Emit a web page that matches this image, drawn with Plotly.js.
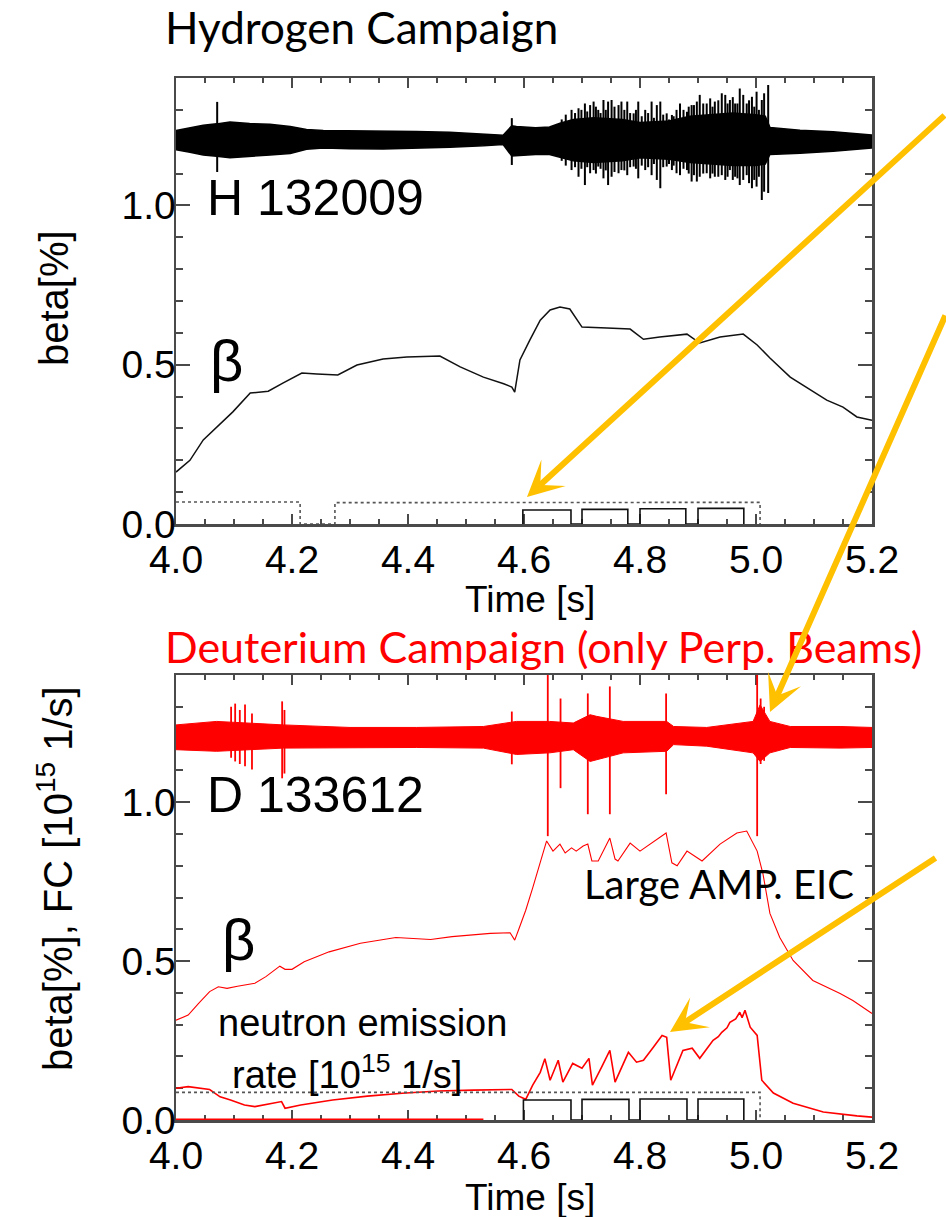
<!DOCTYPE html>
<html>
<head>
<meta charset="utf-8">
<script src="https://cdn.plot.ly/plotly-3.0.1.min.js"></script>
<style>
  html, body { margin: 0; padding: 0; background: #fff; }
  #plot { width: 946px; height: 1217px; }
</style>
</head>
<body>
<div id="plot"></div>
<script>
// ---------- Hydrogen shot H 132009 ----------
// magnetic fluctuation signal: envelope of the dense band
const hBandT  = [4.000, 4.024, 4.047, 4.070, 4.093, 4.127, 4.162, 4.197, 4.225, 4.254, 4.300, 4.357, 4.415, 4.472, 4.530, 4.564, 4.579, 4.587, 4.620, 4.644, 4.662, 4.685, 4.720, 4.770, 4.800, 4.850, 4.886, 4.920, 4.960, 5.000, 5.016, 5.024, 5.076, 5.133, 5.170, 5.200];
const hBandHi = [1.235, 1.243, 1.252, 1.256, 1.262, 1.257, 1.255, 1.248, 1.238, 1.235, 1.234, 1.235, 1.232, 1.230, 1.225, 1.220, 1.250, 1.248, 1.244, 1.246, 1.258, 1.270, 1.275, 1.270, 1.260, 1.265, 1.280, 1.285, 1.290, 1.285, 1.280, 1.245, 1.236, 1.231, 1.226, 1.221];
const hBandLo = [1.175, 1.167, 1.158, 1.154, 1.150, 1.155, 1.158, 1.163, 1.176, 1.180, 1.178, 1.177, 1.180, 1.183, 1.187, 1.191, 1.155, 1.157, 1.160, 1.160, 1.152, 1.140, 1.135, 1.140, 1.150, 1.145, 1.135, 1.130, 1.125, 1.125, 1.130, 1.160, 1.164, 1.170, 1.175, 1.180];
// individual spikes of the fluctuation signal
const hSpikeT  = [4.071, 4.579, 4.665, 4.672, 4.682, 4.688, 4.694, 4.699, 4.705, 4.709, 4.714, 4.720, 4.724, 4.728, 4.732, 4.737, 4.741, 4.745, 4.751, 4.756, 4.763, 4.768, 4.773, 4.778, 4.783, 4.789, 4.793, 4.797, 4.803, 4.809, 4.814, 4.820, 4.824, 4.829, 4.835, 4.840, 4.846, 4.850, 4.855, 4.858, 4.863, 4.869, 4.875, 4.881, 4.884, 4.889, 4.893, 4.898, 4.903, 4.909, 4.915, 4.921, 4.925, 4.929, 4.935, 4.941, 4.947, 4.951, 4.955, 4.960, 4.964, 4.968, 4.972, 4.978, 4.984, 4.988, 4.993, 4.997, 5.001, 5.005, 5.010, 5.014, 5.021];
const hSpikeHi = [1.325, 1.274, 1.270, 1.285, 1.300, 1.290, 1.305, 1.300, 1.320, 1.295, 1.315, 1.326, 1.310, 1.300, 1.290, 1.331, 1.300, 1.326, 1.331, 1.310, 1.315, 1.326, 1.300, 1.326, 1.290, 1.289, 1.300, 1.326, 1.280, 1.300, 1.290, 1.326, 1.275, 1.315, 1.326, 1.285, 1.289, 1.270, 1.284, 1.280, 1.300, 1.320, 1.300, 1.294, 1.310, 1.315, 1.315, 1.326, 1.347, 1.320, 1.320, 1.336, 1.310, 1.326, 1.330, 1.352, 1.347, 1.320, 1.331, 1.340, 1.320, 1.320, 1.367, 1.347, 1.320, 1.330, 1.341, 1.310, 1.357, 1.300, 1.331, 1.352, 1.378];
const hSpikeLo = [1.105, 1.127, 1.140, 1.125, 1.111, 1.120, 1.090, 1.115, 1.064, 1.120, 1.101, 1.111, 1.100, 1.122, 1.115, 1.085, 1.110, 1.064, 1.090, 1.105, 1.101, 1.111, 1.110, 1.095, 1.120, 1.122, 1.115, 1.085, 1.125, 1.111, 1.120, 1.095, 1.130, 1.080, 1.054, 1.120, 1.122, 1.130, 1.111, 1.125, 1.101, 1.095, 1.115, 1.111, 1.100, 1.075, 1.095, 1.075, 1.090, 1.100, 1.101, 1.085, 1.100, 1.090, 1.090, 1.095, 1.080, 1.090, 1.111, 1.080, 1.090, 1.085, 1.064, 1.080, 1.095, 1.070, 1.054, 1.080, 1.059, 1.090, 1.017, 1.043, 1.039];
// plasma beta
const hBetaT = [4.000, 4.010, 4.024, 4.047, 4.070, 4.098, 4.128, 4.159, 4.185, 4.217, 4.243, 4.279, 4.312, 4.357, 4.398, 4.455, 4.490, 4.530, 4.565, 4.579, 4.584, 4.593, 4.610, 4.628, 4.645, 4.662, 4.679, 4.700, 4.743, 4.783, 4.806, 4.834, 4.881, 4.903, 4.938, 4.978, 5.002, 5.024, 5.059, 5.088, 5.122, 5.150, 5.174, 5.200];
const hBetaV = [0.163, 0.178, 0.200, 0.264, 0.305, 0.352, 0.411, 0.417, 0.443, 0.474, 0.471, 0.468, 0.499, 0.518, 0.524, 0.527, 0.493, 0.461, 0.440, 0.430, 0.414, 0.515, 0.577, 0.640, 0.672, 0.681, 0.675, 0.618, 0.615, 0.612, 0.580, 0.587, 0.596, 0.568, 0.587, 0.596, 0.562, 0.521, 0.461, 0.427, 0.389, 0.367, 0.336, 0.326];
// tangential beam power (dotted)
const hDotT = [4.000, 4.214, 4.214, 4.274, 4.274, 5.007, 5.007];
const hDotV = [0.069, 0.069, 0.000, 0.000, 0.067, 0.068, 0.000];
// perpendicular beam pulses
const hPulseOn  = [4.598, 4.700, 4.800, 4.900];
const hPulseOff = [4.681, 4.779, 4.879, 4.979];
const hPulseLvl = [0.044, 0.046, 0.048, 0.049];

// ---------- Deuterium shot D 133612 ----------
const dBandT  = [4.000, 4.070, 4.185, 4.300, 4.415, 4.530, 4.587, 4.644, 4.685, 4.714, 4.725, 4.771, 4.846, 4.858, 4.915, 4.995, 5.007, 5.024, 5.059, 5.145, 5.200];
const dBandHi = [1.243, 1.254, 1.243, 1.235, 1.235, 1.238, 1.254, 1.254, 1.249, 1.275, 1.270, 1.254, 1.254, 1.238, 1.235, 1.254, 1.306, 1.254, 1.238, 1.238, 1.235];
const dBandLo = [1.165, 1.160, 1.170, 1.172, 1.172, 1.170, 1.150, 1.155, 1.165, 1.128, 1.135, 1.155, 1.160, 1.181, 1.176, 1.155, 1.128, 1.155, 1.172, 1.170, 1.172];
const dSpikeT  = [4.095, 4.102, 4.110, 4.119, 4.131, 4.183, 4.187, 4.579, 4.641, 4.663, 4.710, 4.748, 4.845, 5.002, 5.008, 5.014];
const dSpikeHi = [1.300, 1.310, 1.290, 1.307, 1.279, 1.317, 1.290, 1.285, 1.450, 1.326, 1.342, 1.364, 1.342, 1.450, 1.326, 1.300];
const dSpikeLo = [1.140, 1.128, 1.120, 1.113, 1.103, 1.075, 1.090, 1.119, 0.893, 1.044, 0.962, 0.962, 1.025, 0.893, 1.120, 1.130];
const dBetaT = [4.000, 4.021, 4.039, 4.058, 4.073, 4.088, 4.106, 4.136, 4.155, 4.179, 4.188, 4.200, 4.221, 4.264, 4.318, 4.379, 4.409, 4.439, 4.476, 4.542, 4.576, 4.584, 4.591, 4.603, 4.615, 4.628, 4.639, 4.650, 4.662, 4.671, 4.682, 4.690, 4.702, 4.710, 4.717, 4.728, 4.748, 4.757, 4.762, 4.783, 4.800, 4.845, 4.855, 4.864, 4.881, 4.907, 4.938, 4.967, 4.984, 5.002, 5.012, 5.024, 5.041, 5.064, 5.098, 5.145, 5.167, 5.200];
const dBetaV = [0.314, 0.330, 0.367, 0.404, 0.419, 0.414, 0.421, 0.430, 0.451, 0.484, 0.474, 0.474, 0.498, 0.529, 0.556, 0.574, 0.571, 0.568, 0.577, 0.587, 0.589, 0.566, 0.600, 0.660, 0.730, 0.810, 0.878, 0.846, 0.868, 0.840, 0.856, 0.846, 0.862, 0.868, 0.815, 0.815, 0.887, 0.821, 0.815, 0.871, 0.846, 0.903, 0.809, 0.800, 0.846, 0.815, 0.868, 0.903, 0.909, 0.846, 0.774, 0.650, 0.574, 0.502, 0.439, 0.398, 0.376, 0.335];
// neutron emission rate
const dNeutT = [4.000, 4.021, 4.058, 4.076, 4.094, 4.118, 4.136, 4.167, 4.182, 4.188, 4.215, 4.270, 4.330, 4.390, 4.452, 4.512, 4.579, 4.591, 4.603, 4.615, 4.628, 4.636, 4.645, 4.659, 4.667, 4.684, 4.700, 4.712, 4.718, 4.734, 4.748, 4.757, 4.780, 4.794, 4.806, 4.823, 4.838, 4.846, 4.853, 4.874, 4.890, 4.903, 4.926, 4.935, 4.941, 4.950, 4.955, 4.965, 4.972, 4.976, 4.981, 4.990, 5.002, 5.010, 5.030, 5.064, 5.116, 5.174, 5.200];
const dNeutV = [0.100, 0.105, 0.096, 0.073, 0.063, 0.047, 0.042, 0.052, 0.058, 0.037, 0.047, 0.063, 0.075, 0.084, 0.091, 0.094, 0.096, 0.075, 0.065, 0.110, 0.150, 0.193, 0.125, 0.188, 0.119, 0.178, 0.163, 0.194, 0.110, 0.167, 0.219, 0.119, 0.213, 0.182, 0.188, 0.229, 0.266, 0.260, 0.125, 0.219, 0.226, 0.194, 0.251, 0.262, 0.276, 0.290, 0.307, 0.318, 0.339, 0.322, 0.345, 0.292, 0.266, 0.125, 0.085, 0.053, 0.025, 0.013, 0.009];
const dZeroT = [4.000, 4.530];
const dZeroV = [0.000, 0.000];
const dDotT = [4.000, 5.007, 5.007];
const dDotV = [0.087, 0.087, 0.000];
const dPulseOn  = [4.599, 4.700, 4.800, 4.900];
const dPulseOff = [4.681, 4.781, 4.881, 4.979];
const dPulseLvl = [0.063, 0.065, 0.066, 0.066];

// axis ticks
const xRange = [4.0, 5.2];
const yRange = [0.0, 1.4];
const xMajor = 0.2, xMinor = 0.05;
const yMajor = 0.5, yMinor = 0.1;

// ---------- helpers ----------
const W = 946, H = 1217;
const px = v => v / W;          // pixel -> paper x
const py = v => 1 - v / H;      // pixel -> paper y

function bandPolygon(t, hi, lo) {
  return {
    x: t.concat(t.slice().reverse()),
    y: hi.concat(lo.slice().reverse())
  };
}
function spikeSegments(t, hi, lo) {
  const x = [], y = [];
  t.forEach((v, i) => { x.push(v, v, null); y.push(lo[i], hi[i], null); });
  return { x, y };
}
function pulseSteps(on, off, lvl) {
  const x = [], y = [];
  on.forEach((v, i) => { x.push(v, v, off[i], off[i]); y.push(0, lvl[i], lvl[i], 0); });
  return { x, y };
}

const hBand = bandPolygon(hBandT, hBandHi, hBandLo);
const hSpk = spikeSegments(hSpikeT, hSpikeHi, hSpikeLo);
const hPul = pulseSteps(hPulseOn, hPulseOff, hPulseLvl);
const dBand = bandPolygon(dBandT, dBandHi, dBandLo);
const dSpk = spikeSegments(dSpikeT, dSpikeHi, dSpikeLo);
const dPul = pulseSteps(dPulseOn, dPulseOff, dPulseLvl);

const RED = '#ff0000';
const traces = [
  // upper panel
  { x: hBand.x, y: hBand.y, xaxis: 'x', yaxis: 'y', mode: 'lines', fill: 'toself', fillcolor: '#000', line: { color: '#000', width: 1.5 } },
  { x: hSpk.x, y: hSpk.y, xaxis: 'x', yaxis: 'y', mode: 'lines', line: { color: '#000', width: 2 } },
  { x: hBetaT, y: hBetaV, xaxis: 'x', yaxis: 'y', mode: 'lines', line: { color: '#111', width: 1.5 } },
  { x: hDotT, y: hDotV, xaxis: 'x', yaxis: 'y', mode: 'lines', line: { color: '#555', width: 1.6, dash: 'dot' } },
  { x: hPul.x, y: hPul.y, xaxis: 'x', yaxis: 'y', mode: 'lines', line: { color: '#111', width: 1.6 } },
  // lower panel
  { x: dBand.x, y: dBand.y, xaxis: 'x2', yaxis: 'y2', mode: 'lines', fill: 'toself', fillcolor: RED, line: { color: RED, width: 1 } },
  { x: dSpk.x, y: dSpk.y, xaxis: 'x2', yaxis: 'y2', mode: 'lines', line: { color: RED, width: 1.8 } },
  { x: dBetaT, y: dBetaV, xaxis: 'x2', yaxis: 'y2', mode: 'lines', line: { color: RED, width: 1.1 } },
  { x: dNeutT, y: dNeutV, xaxis: 'x2', yaxis: 'y2', mode: 'lines', line: { color: RED, width: 1.6 } },
  { x: dDotT, y: dDotV, xaxis: 'x2', yaxis: 'y2', mode: 'lines', line: { color: '#555', width: 1.6, dash: 'dot' } },
  { x: dPul.x, y: dPul.y, xaxis: 'x2', yaxis: 'y2', mode: 'lines', line: { color: '#111', width: 1.6 } },
  { x: dZeroT, y: dZeroV, xaxis: 'x2', yaxis: 'y2', mode: 'lines', line: { color: RED, width: 3 } }
];
traces.forEach(t => { t.showlegend = false; t.hoverinfo = 'skip'; });

const FRAME = '#4a4a4a';
const TICKFONT = { family: 'Liberation Sans, Arial, sans-serif', size: 39, color: '#000' };
function xAxis(anchor, dom) {
  return {
    domain: dom, anchor: anchor, range: xRange, tick0: 4.0, dtick: xMajor, tickformat: '.1f',
    ticks: 'inside', ticklen: 10, tickwidth: 2, tickcolor: FRAME,
    minor: { dtick: xMinor, tick0: 4.0, ticks: 'inside', ticklen: 5, tickwidth: 2, tickcolor: FRAME, showgrid: false },
    showline: true, linecolor: FRAME, linewidth: 2.5, mirror: 'allticks',
    showgrid: false, zeroline: false, tickfont: TICKFONT, fixedrange: true, layer: 'below traces'
  };
}
function yAxis(anchor, dom) {
  return {
    domain: dom, anchor: anchor, range: yRange, tick0: 0, dtick: yMajor, tickformat: '.1f',
    ticks: 'inside', ticklen: 14, tickwidth: 2, tickcolor: FRAME,
    minor: { dtick: yMinor, tick0: 0, ticks: 'inside', ticklen: 7, tickwidth: 2, tickcolor: FRAME, showgrid: false },
    showline: true, linecolor: FRAME, linewidth: 2.5, mirror: 'allticks', ticklabelstandoff: -10,
    showgrid: false, zeroline: false, tickfont: TICKFONT, fixedrange: true, layer: 'below traces'
  };
}

const xDom = [px(176), px(872)];
const yTopDom = [py(524), py(78)];
const yBotDom = [py(1120), py(675)];

const SANS = 'Liberation Sans, Arial, sans-serif';
const HUMAN = 'Lato, Noto Sans, sans-serif';
function label(text, x, y, size, opts) {
  return Object.assign({
    text: text, xref: 'paper', yref: 'paper', x: px(x), y: py(y),
    xanchor: 'center', yanchor: 'middle', showarrow: false,
    font: { family: SANS, size: size, color: '#000' }
  }, opts || {});
}
function arrow(tipX, tipY, dx, dy) {
  return {
    text: '', xref: 'paper', yref: 'paper', x: px(tipX), y: py(tipY),
    ax: dx, ay: dy, showarrow: true, arrowhead: 3, arrowsize: 1, arrowwidth: 6,
    arrowcolor: '#ffc000', standoff: 0, startstandoff: 0
  };
}

const annotations = [
  label('Hydrogen Campaign', 163, 27, 44, { xanchor: 'left', font: { family: HUMAN, size: 44, color: '#000' } }),
  label('Deuterium Campaign (only Perp. Beams)', 163, 646, 43, { xanchor: 'left', font: { family: HUMAN, size: 43, color: RED } }),
  label('Large AMP. EIC', 582, 884, 40, { xanchor: 'left', font: { family: HUMAN, size: 40, color: '#000' } }),
  label('H 132009', 205, 198, 50, { xanchor: 'left' }),
  label('D 133612', 205, 795, 50, { xanchor: 'left' }),
  label('\u03b2', 226, 360, 58),
  label('\u03b2', 238, 940, 58),
  label('neutron emission', 216, 1023, 38, { xanchor: 'left' }),
  label('rate [10<sup>15</sup> 1/s]', 230, 1072, 38, { xanchor: 'left' }),
  label('beta[%]', 54, 298, 40, { textangle: -90 }),
  label('beta[%], FC [10<sup>15</sup> 1/s]', 55, 879, 40, { textangle: -90 }),
  label('Time [s]', 530, 599, 37),
  label('Time [s]', 530, 1197, 37),
  arrow(527, 497, 463, -383),
  arrow(770, 712, 210, -398),
  arrow(670, 1032, 267, -175)
];

const layout = {
  width: W, height: H,
  margin: { l: 0, r: 0, t: 0, b: 0 },
  paper_bgcolor: '#fff', plot_bgcolor: '#fff',
  font: { family: SANS, color: '#000' },
  showlegend: false,
  xaxis: xAxis('y', xDom),
  yaxis: yAxis('x', yTopDom),
  xaxis2: xAxis('y2', xDom),
  yaxis2: yAxis('x2', yBotDom),
  annotations: annotations
};

Plotly.newPlot('plot', traces, layout, { staticPlot: true, displayModeBar: false });
</script>
</body>
</html>
